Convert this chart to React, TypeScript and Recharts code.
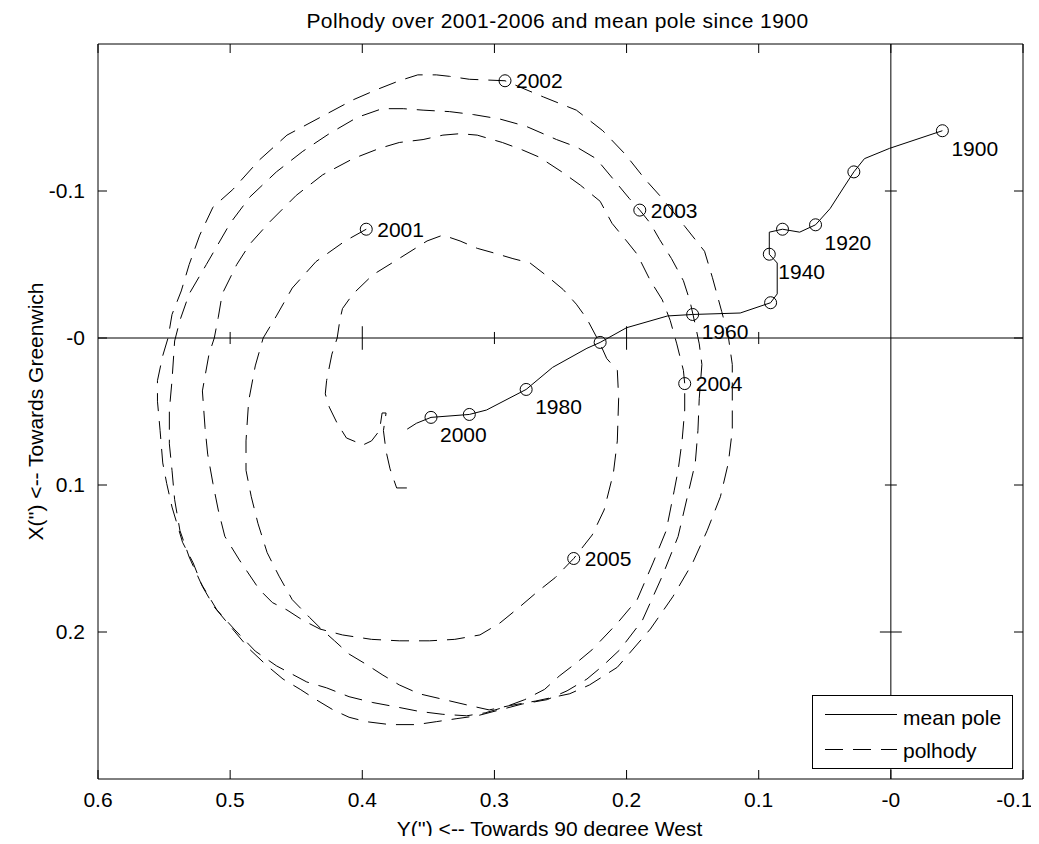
import { Label, Legend, ReferenceLine, Scatter, ScatterChart, XAxis, YAxis } from "recharts";

const FONT = '"Liberation Sans", Arial, sans-serif';
const TITLE = "Polhody over 2001-2006 and mean pole since 1900";

// mean pole 1900-2000: Y('') is the horizontal axis, X('') the vertical one
const meanPoleY = [-0.039, 0.001, 0.02, 0.028, 0.036, 0.046, 0.057, 0.069, 0.082, 0.092, 0.092, 0.086, 0.086, 0.091, 0.114, 0.15, 0.169, 0.2, 0.22, 0.23, 0.256, 0.276, 0.306, 0.319, 0.348, 0.359, 0.366];
const meanPoleX = [-0.141, -0.129, -0.122, -0.113, -0.102, -0.088, -0.077, -0.072, -0.074, -0.072, -0.057, -0.051, -0.03, -0.024, -0.017, -0.016, -0.015, -0.007, 0.003, 0.007, 0.02, 0.035, 0.049, 0.052, 0.054, 0.058, 0.062];

const decadeYears = [1900, 1910, 1920, 1930, 1940, 1950, 1960, 1970, 1980, 1990, 2000];
const decadeY = [-0.039, 0.028, 0.057, 0.082, 0.092, 0.091, 0.15, 0.22, 0.276, 0.319, 0.348];
const decadeX = [-0.141, -0.113, -0.077, -0.074, -0.057, -0.024, -0.016, 0.003, 0.035, 0.052, 0.054];
const labelledDecades = [1900, 1920, 1940, 1960, 1980, 2000];

// polhody 2001-2006
const polhodyY = [
  0.397, 0.413, 0.435, 0.453, 0.465, 0.475, 0.481, 0.486, 0.488, 0.488, 0.484, 0.479, 0.472, 0.463, 0.453, 0.44, 0.431, 0.421, 0.41, 0.397,
  0.385, 0.372, 0.357, 0.338, 0.319, 0.304, 0.288, 0.269, 0.243, 0.228, 0.207, 0.182, 0.165, 0.15, 0.139, 0.129, 0.123, 0.12, 0.12, 0.12,
  0.123, 0.128, 0.135, 0.141, 0.156, 0.173, 0.186, 0.201, 0.218, 0.238, 0.263, 0.292,
  0.319, 0.334, 0.344, 0.358, 0.372, 0.389, 0.407, 0.432, 0.457, 0.478, 0.498, 0.513, 0.523, 0.531, 0.537, 0.544, 0.547, 0.551, 0.555, 0.555,
  0.553, 0.551, 0.548, 0.544, 0.536, 0.528, 0.521, 0.512, 0.5, 0.485, 0.472, 0.46, 0.447, 0.435, 0.422, 0.41, 0.397, 0.379, 0.359, 0.344,
  0.329, 0.313, 0.296, 0.279, 0.26, 0.245, 0.23, 0.218, 0.205, 0.188, 0.173, 0.161, 0.154, 0.148, 0.146, 0.145, 0.143, 0.145, 0.148, 0.152,
  0.157, 0.166, 0.175, 0.182, 0.19,
  0.198, 0.21, 0.223, 0.238, 0.253, 0.276, 0.296, 0.316, 0.334, 0.354, 0.369, 0.385, 0.404, 0.425, 0.445, 0.465, 0.485, 0.5, 0.518, 0.531,
  0.538, 0.542, 0.544, 0.546, 0.546, 0.544, 0.542, 0.538, 0.531, 0.522, 0.51, 0.497, 0.481, 0.465, 0.442, 0.427, 0.41, 0.392, 0.374, 0.357,
  0.339, 0.321, 0.307, 0.292, 0.277, 0.262, 0.251, 0.238, 0.226, 0.207, 0.192, 0.18, 0.17, 0.164, 0.161, 0.158, 0.156, 0.156,
  0.157, 0.162, 0.167, 0.173, 0.182, 0.192, 0.2, 0.211, 0.22, 0.235, 0.249, 0.266, 0.279, 0.294, 0.313, 0.326, 0.339, 0.354, 0.372, 0.387,
  0.407, 0.43, 0.45, 0.47, 0.485, 0.495, 0.506, 0.509, 0.512, 0.516, 0.521, 0.519, 0.517, 0.513, 0.509, 0.504, 0.493, 0.478, 0.468, 0.457,
  0.445, 0.432, 0.415, 0.393, 0.372, 0.349, 0.33, 0.311, 0.296, 0.281, 0.268, 0.254, 0.24,
  0.226, 0.217, 0.21, 0.207, 0.206, 0.207, 0.215, 0.22, 0.23, 0.238, 0.248, 0.26, 0.273, 0.286, 0.301, 0.313, 0.326, 0.339, 0.351, 0.374,
  0.392, 0.407, 0.415, 0.417, 0.419, 0.423, 0.427, 0.428, 0.425, 0.419, 0.412, 0.404, 0.4, 0.393, 0.387, 0.385, 0.382, 0.384, 0.382, 0.379,
  0.374, 0.366,
];
const polhodyX = [
  -0.074, -0.066, -0.052, -0.034, -0.015, 0, 0.019, 0.043, 0.07, 0.09, 0.108, 0.126, 0.146, 0.162, 0.178, 0.19, 0.198, 0.206, 0.215, 0.222,
  0.229, 0.236, 0.242, 0.246, 0.25, 0.253, 0.25, 0.247, 0.242, 0.236, 0.224, 0.198, 0.176, 0.153, 0.131, 0.108, 0.085, 0.063, 0.043, 0.018,
  -0.001, -0.018, -0.041, -0.059, -0.076, -0.095, -0.108, -0.125, -0.141, -0.155, -0.164, -0.175,
  -0.176, -0.178, -0.179, -0.179, -0.175, -0.169, -0.162, -0.15, -0.138, -0.121, -0.101, -0.089, -0.07, -0.05, -0.032, -0.016, 0, 0.012, 0.029, 0.043,
  0.063, 0.085, 0.099, 0.115, 0.139, 0.153, 0.169, 0.183, 0.196, 0.212, 0.223, 0.232, 0.239, 0.246, 0.253, 0.258, 0.261, 0.263, 0.263, 0.261,
  0.259, 0.257, 0.253, 0.249, 0.246, 0.24, 0.232, 0.223, 0.212, 0.192, 0.162, 0.135, 0.108, 0.085, 0.063, 0.041, 0.018, 0.004, -0.009, -0.025,
  -0.039, -0.054, -0.067, -0.078, -0.087,
  -0.095, -0.108, -0.122, -0.13, -0.135, -0.144, -0.149, -0.152, -0.154, -0.155, -0.156, -0.156, -0.15, -0.139, -0.127, -0.113, -0.096, -0.078, -0.05, -0.03,
  -0.012, 0.002, 0.029, 0.049, 0.072, 0.09, 0.11, 0.131, 0.149, 0.167, 0.185, 0.198, 0.213, 0.223, 0.234, 0.238, 0.244, 0.248, 0.251, 0.254,
  0.256, 0.257, 0.255, 0.251, 0.246, 0.239, 0.23, 0.221, 0.212, 0.194, 0.178, 0.153, 0.131, 0.104, 0.09, 0.07, 0.049, 0.031,
  0.022, 0.004, -0.012, -0.026, -0.039, -0.057, -0.066, -0.078, -0.093, -0.104, -0.113, -0.123, -0.128, -0.133, -0.138, -0.139, -0.138, -0.135, -0.133, -0.129,
  -0.122, -0.111, -0.097, -0.079, -0.064, -0.05, -0.03, -0.014, 0, 0.011, 0.036, 0.061, 0.079, 0.099, 0.117, 0.135, 0.151, 0.171, 0.18, 0.185,
  0.192, 0.198, 0.202, 0.205, 0.206, 0.206, 0.205, 0.202, 0.194, 0.183, 0.173, 0.163, 0.15,
  0.134, 0.117, 0.092, 0.07, 0.041, 0.022, 0.014, 0.004, -0.013, -0.023, -0.033, -0.042, -0.051, -0.054, -0.058, -0.061, -0.066, -0.07, -0.066, -0.053,
  -0.043, -0.03, -0.02, -0.012, 0, 0.011, 0.029, 0.038, 0.047, 0.058, 0.068, 0.071, 0.073, 0.07, 0.063, 0.051, 0.051, 0.063, 0.077, 0.089,
  0.102, 0.102,
];

const markYears = [2001, 2002, 2003, 2004, 2005];
const markY = [0.397, 0.292, 0.19, 0.156, 0.24];
const markX = [-0.074, -0.175, -0.087, 0.031, 0.15];

const hTicks = [0.6, 0.5, 0.4, 0.3, 0.2, 0.1, 0, -0.1];
const vTicks = [-0.1, 0, 0.1, 0.2];

const DASH = "18 10";

const meanPole = meanPoleY.map((py, i) => ({ py, px: meanPoleX[i] }));
const decades = decadeYears.map((year, i) => ({
  py: decadeY[i],
  px: decadeX[i],
  label: labelledDecades.includes(year) ? String(year) : "",
}));
const polhody = polhodyY.map((py, i) => ({ py, px: polhodyX[i] }));
const marks = markYears.map((year, i) => ({ py: markY[i], px: markX[i], label: String(year) }));

const fmt = (v: number) => (Math.abs(v) < 1e-9 ? "-0" : String(Number(v.toFixed(1))));
const isLong = (v: number) => Math.round(Math.abs(v) * 10) % 2 === 0;

const tickFont = { fontFamily: FONT, fontSize: 21, fill: "#000" };

function NoDot() {
  return <g />;
}

function DecadeMark(props: any) {
  const { cx, cy, payload } = props;
  return (
    <g>
      <circle cx={cx} cy={cy} r={6} fill="none" stroke="#000" />
      {payload.label ? (
        <text x={cx + 9} y={cy + 25} fontFamily={FONT} fontSize={21} fill="#000">
          {payload.label}
        </text>
      ) : null}
    </g>
  );
}

function YearMark(props: any) {
  const { cx, cy, payload } = props;
  return (
    <g>
      <circle cx={cx} cy={cy} r={6} fill="none" stroke="#000" />
      <text x={cx + 11} y={cy + 7.5} fontFamily={FONT} fontSize={21} fill="#000">
        {payload.label}
      </text>
    </g>
  );
}

function LegendBox() {
  return (
    <div style={{ width: 201, height: 74, boxSizing: "border-box", border: "1px solid #000", background: "#fff" }}>
      <svg width={199} height={72} style={{ display: "block" }}>
        <line x1={12} x2={84} y1={18.5} y2={18.5} stroke="#000" />
        <text x={90} y={29} fontFamily={FONT} fontSize={21} fill="#000">mean pole</text>
        <line x1={12} x2={84} y1={53.5} y2={53.5} stroke="#000" strokeDasharray={DASH} />
        <text x={90} y={62} fontFamily={FONT} fontSize={21} fill="#000">polhody</text>
      </svg>
    </div>
  );
}

export default function App() {
  return (
    <div style={{ height: 828 }}>
      <ScatterChart width={1023} height={836} margin={{ top: 35, right: 7, bottom: 8, left: 30 }}>
        <XAxis
          type="number"
          dataKey="py"
          domain={[-0.1, 0.6]}
          reversed
          ticks={hTicks}
          tickFormatter={fmt}
          tick={tickFont}
          tickSize={-9}
          tickMargin={22}
          height={57}
          axisLine={{ stroke: "#000" }}
          tickLine={{ stroke: "#000" }}
          allowDataOverflow
        >
          <Label value="Y('') <-- Towards 90 degree West" position="center" dx={-11} dy={21} style={tickFont} />
        </XAxis>
        <XAxis
          xAxisId="top"
          orientation="top"
          type="number"
          dataKey="py"
          domain={[-0.1, 0.6]}
          reversed
          ticks={hTicks}
          tick={NoDot}
          tickSize={-9}
          height={1}
          axisLine={{ stroke: "#000" }}
          tickLine={{ stroke: "#000" }}
          allowDataOverflow
        >
          <Label value={TITLE} position="top" offset={14.7} dx={-3} style={{ ...tickFont, letterSpacing: 0.45 }} />
        </XAxis>
        <YAxis
          type="number"
          dataKey="px"
          domain={[-0.2, 0.3]}
          reversed
          ticks={vTicks}
          tickFormatter={fmt}
          tick={tickFont}
          tickSize={-9}
          tickMargin={22}
          width={60}
          axisLine={{ stroke: "#000" }}
          tickLine={{ stroke: "#000" }}
          allowDataOverflow
        >
          <Label value="X('') <-- Towards Greenwich" angle={-90} position="center" dx={-32} style={tickFont} />
        </YAxis>
        <YAxis
          yAxisId="right"
          orientation="right"
          type="number"
          dataKey="px"
          domain={[-0.2, 0.3]}
          reversed
          ticks={vTicks}
          tick={NoDot}
          tickSize={-9}
          width={1}
          axisLine={{ stroke: "#000" }}
          tickLine={{ stroke: "#000" }}
          allowDataOverflow
        />

        <ReferenceLine x={0} stroke="#000" />
        <ReferenceLine y={0} stroke="#000" />
        {hTicks
          .filter((v) => v > 0.05 && v < 0.55)
          .map((v) => {
            const h = isLong(v) ? 0.008 : 0.0041;
            return (
              <ReferenceLine
                key={`hx${v}`}
                segment={[
                  { x: v, y: -h },
                  { x: v, y: h },
                ]}
                stroke="#000"
              />
            );
          })}
        {vTicks
          .filter((v) => Math.abs(v) > 0.05)
          .map((v) => {
            const h = isLong(v) ? 0.0083 : 0.0045;
            return (
              <ReferenceLine
                key={`vx${v}`}
                segment={[
                  { x: -h, y: v },
                  { x: h, y: v },
                ]}
                stroke="#000"
              />
            );
          })}

        <Scatter
          name="polhody"
          data={polhody}
          fill="#000"
          line={{ stroke: "#000", strokeWidth: 1, strokeDasharray: DASH }}
          lineType="joint"
          shape={NoDot}
          isAnimationActive={false}
        />
        <Scatter
          name="mean pole"
          data={meanPole}
          fill="#000"
          line={{ stroke: "#000", strokeWidth: 1 }}
          lineType="joint"
          shape={NoDot}
          isAnimationActive={false}
        />
        <Scatter data={decades} fill="none" shape={DecadeMark} isAnimationActive={false} legendType="none" />
        <Scatter data={marks} fill="none" shape={YearMark} isAnimationActive={false} legendType="none" />

        <Legend
          layout="vertical"
          align="center"
          verticalAlign="middle"
          content={LegendBox}
          wrapperStyle={{ position: "absolute", left: 804, top: 687, width: 201, height: 74 }}
        />
      </ScatterChart>
    </div>
  );
}
